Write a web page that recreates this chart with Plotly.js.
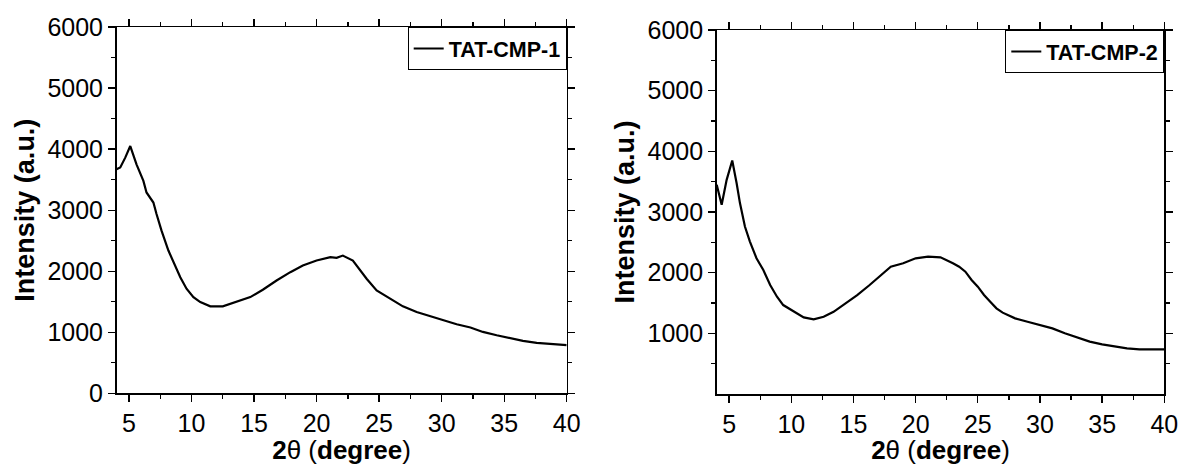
<!DOCTYPE html>
<html>
<head>
<meta charset="utf-8">
<script src="https://cdn.plot.ly/plotly-3.0.1.min.js"></script>
<style>html,body{margin:0;padding:0;background:#fff;}#chart{width:1181px;height:465px;}</style>
</head>
<body>
<div id="chart"></div>
<script>
// TAT-CMP-1 (left panel)
const angle1 = [4.0, 4.3, 4.7, 5.1, 5.6, 6.15, 6.4, 6.95, 7.2, 7.6, 8.15, 8.55, 9.1, 9.6, 10.15, 10.7, 11.5, 12.5, 13.6, 14.7, 15.7, 16.8, 17.9, 18.9, 20.0, 21.1, 21.6, 22.1, 22.9, 23.5, 24.0, 24.8, 25.9, 26.9, 28.0, 29.1, 30.1, 31.2, 32.3, 33.3, 34.4, 35.5, 36.5, 37.6, 38.7, 40.0];
const intensity1 = [3670, 3700, 3860, 4050, 3750, 3480, 3290, 3125, 2936, 2664, 2338, 2147, 1902, 1713, 1576, 1494, 1424, 1424, 1494, 1576, 1697, 1848, 1984, 2093, 2175, 2229, 2219, 2256, 2175, 2012, 1876, 1685, 1550, 1424, 1331, 1261, 1196, 1130, 1077, 1005, 951, 897, 858, 825, 804, 788];

// TAT-CMP-2 (right panel)
const angle2 = [4.0, 4.4, 4.8, 5.25, 5.6, 5.87, 6.27, 6.67, 7.2, 7.75, 8.3, 8.85, 9.35, 10.2, 11.0, 11.8, 12.6, 13.4, 14.2, 15.3, 16.3, 17.0, 17.7, 18.0, 19.0, 20.0, 21.0, 22.0, 23.0, 23.5, 24.0, 24.5, 25.0, 25.5, 26.0, 26.5, 27.0, 28.0, 29.0, 30.0, 31.0, 32.0, 33.0, 34.0, 35.0, 36.0, 37.0, 38.0, 39.0, 40.0];
const intensity2 = [3450, 3120, 3530, 3850, 3478, 3147, 2760, 2512, 2238, 2045, 1797, 1603, 1466, 1355, 1263, 1230, 1273, 1355, 1466, 1631, 1797, 1920, 2045, 2099, 2154, 2236, 2264, 2253, 2154, 2099, 2016, 1879, 1769, 1632, 1522, 1412, 1341, 1247, 1192, 1137, 1082, 1000, 934, 863, 819, 780, 753, 736, 736, 736];

const seriesNames = ["TAT-CMP-1", "TAT-CMP-2"];
const xTickVals = [5, 10, 15, 20, 25, 30, 35, 40];
const yTickVals1 = [0, 1000, 2000, 3000, 4000, 5000, 6000];
const yTickVals2 = [1000, 2000, 3000, 4000, 5000, 6000];
const yMinorVals = [500, 1500, 2500, 3500, 4500, 5500];

const FONT = "Liberation Sans, Arial, sans-serif";
const W = 1181, H = 465;

const traces = [
  {x: angle1, y: intensity1, type: "scatter", mode: "lines", name: seriesNames[0],
   line: {color: "#000", width: 2.2}, xaxis: "x", yaxis: "y", legend: "legend"},
  {x: angle2, y: intensity2, type: "scatter", mode: "lines", name: seriesNames[1],
   line: {color: "#000", width: 2.2}, xaxis: "x2", yaxis: "y2", legend: "legend2"}
];

function xAxis(domain, anchor) {
  return {
    domain: domain, anchor: anchor, range: [4, 40],
    tickmode: "array", tickvals: xTickVals,
    ticks: "outside", ticklen: 7, tickwidth: 1.3, tickcolor: "#000",
    minor: {tickmode: "linear", tick0: 0, dtick: 2.5, ticks: "outside", ticklen: 4, tickwidth: 1.3, tickcolor: "#000"},
    showline: true, linecolor: "#000", linewidth: 1.5, mirror: "ticks",
    showgrid: false, zeroline: false,
    tickfont: {family: FONT, size: 25, color: "#000"},
    title: {text: "<b>2</b>θ (<b>degree</b>)", font: {family: FONT, size: 26, color: "#000"}, standoff: 8}
  };
}
function yAxis(domain, anchor, vals) {
  return {
    domain: domain, anchor: anchor, range: [0, 6000],
    tickmode: "array", tickvals: vals,
    ticks: "outside", ticklen: 7, tickwidth: 1.3, tickcolor: "#000",
    minor: {tickmode: "array", tickvals: yMinorVals, ticks: "outside", ticklen: 4, tickwidth: 1.3, tickcolor: "#000"},
    showline: true, linecolor: "#000", linewidth: 1.5, mirror: "ticks",
    showgrid: false, zeroline: false,
    tickfont: {family: FONT, size: 25, color: "#000"},
    title: {text: "Intensity (a.u.)", font: {family: FONT, size: 27, color: "#000", weight: "bold"}, standoff: 5}
  };
}

const legendStyle = {
  xanchor: "right", yanchor: "top",
  bgcolor: "#fff", bordercolor: "#000", borderwidth: 1,
  font: {family: FONT, size: 21.5, color: "#000", weight: "bold"},
  tracegroupgap: 0, itemwidth: 30
};

const layout = {
  width: W, height: H,
  margin: {l: 0, r: 0, t: 0, b: 0},
  paper_bgcolor: "#fff", plot_bgcolor: "#fff",
  showlegend: true,
  xaxis: xAxis([116.5 / W, 566.7 / W], "y"),
  yaxis: yAxis([(H - 393.3) / H, (H - 27) / H], "x", yTickVals1),
  xaxis2: xAxis([716.7 / W, 1164.3 / W], "y2"),
  yaxis2: yAxis([(H - 394) / H, (H - 30) / H], "x2", yTickVals2),
  legend: Object.assign({x: 566.7 / W, y: (H - 27) / H}, legendStyle),
  legend2: Object.assign({x: 1164.3 / W, y: (H - 30) / H}, legendStyle)
};

Plotly.newPlot("chart", traces, layout, {staticPlot: true, displayModeBar: false});
</script>
</body>
</html>
